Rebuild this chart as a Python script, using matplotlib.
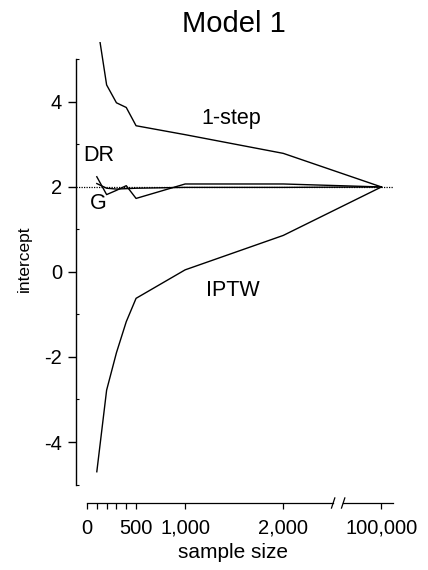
import matplotlib
matplotlib.use('Agg')
import matplotlib.pyplot as plt
import numpy as np

plt.rcParams['font.family'] = ['Liberation Sans', 'DejaVu Sans']
plt.rcParams['axes.unicode_minus'] = False

# sample sizes; 100,000 is drawn after an axis break
sample_size = [100, 200, 300, 400, 500, 1000, 2000, 100000]
one_step = [5.9, 4.4, 3.98, 3.87, 3.44, 3.23, 2.79, 2.0]
iptw = [-4.7, -2.78, -1.9, -1.17, -0.62, 0.05, 0.86, 2.0]
dr = [2.24, 1.82, 1.92, 2.03, 1.73, 2.07, 2.07, 2.0]
g = [2.08, 1.97, 1.95, 1.96, 1.97, 1.99, 1.99, 2.0]
truth = 2.0

xtick_vals = [0, 500, 1000, 2000, 100000]
xtick_labels = ['0', '500', '1,000', '2,000', '100,000']
xminor_vals = [100, 200, 300, 400]


def brk(n):
    # position on the broken axis
    n = np.asarray(n, dtype=float)
    return np.where(n > 2000, 3000.0, n)


def main():
    fig = plt.figure(figsize=(4.28, 5.70), dpi=100)
    ax = fig.add_axes([76/428, 1-503/570, 318/428, 461/570])

    x = brk(sample_size)
    for s in [one_step, iptw, dr, g]:
        ax.plot(x, s, color='black', lw=1.0)
    ax.axhline(truth, color='black', lw=0.9, ls=(0, (1, 1)))

    ax.set_xlim(-112, 3128)
    ax.set_ylim(-5.435, 5.41)

    ax.spines['top'].set_visible(False)
    ax.spines['right'].set_visible(False)
    ax.spines['bottom'].set_visible(False)
    ax.spines['left'].set_bounds(-5, 5)
    ax.spines['left'].set_linewidth(1.0)

    ax.set_yticks([-4, -2, 0, 2, 4])
    ax.set_yticks([-5, -3, -1, 1, 3, 5], minor=True)
    ax.tick_params(axis='y', which='major', direction='out', length=5.5, width=1.0,
                   labelsize=14.5, pad=4.5)
    ax.tick_params(axis='y', which='minor', direction='in', length=2, width=0.8)

    ax.set_xticks(brk(xtick_vals))
    ax.set_xticklabels(xtick_labels)
    ax.set_xticks(xminor_vals, minor=True)
    ax.tick_params(axis='x', which='both', direction='out', length=4.3, width=0.9,
                   labelsize=14.5, pad=7)

    # broken x axis line
    tr = ax.get_xaxis_transform()
    ax.plot([0, 2508], [0, 0], color='black', lw=0.9, transform=tr, clip_on=False)
    ax.plot([2610, 3118], [0, 0], color='black', lw=0.9, transform=tr, clip_on=False)
    for xb in [2508, 2610]:
        ax.plot([xb-17, xb+17], [-0.011, 0.011], color='black', lw=0.9,
                transform=tr, clip_on=False)

    ax.text(1474, 3.6, '1-step', fontsize=15.5, ha='center', va='center')
    ax.text(1482, -0.44, 'IPTW', fontsize=15.5, ha='center', va='center')
    ax.text(115, 2.75, 'DR', fontsize=15.5, ha='center', va='center')
    ax.text(115, 1.6, 'G', fontsize=15.5, ha='center', va='center')

    fig.text(234/428, 1-24/570, 'Model 1', fontsize=21, ha='center', va='center')
    fig.text(233/428, 1-553/570, 'sample size', fontsize=15, ha='center', va='center')
    fig.text(24/428, 1-259/570, 'intercept', fontsize=12.5, ha='center', va='center',
             rotation=90)

    plt.savefig('out.png', dpi=100)


if __name__ == '__main__':
    main()
